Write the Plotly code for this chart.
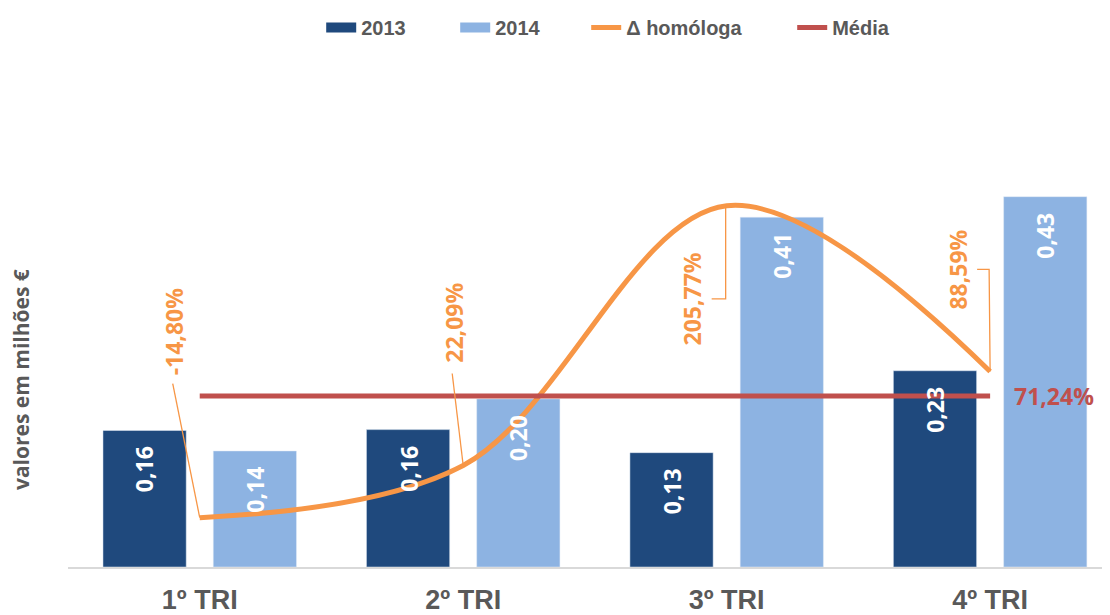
import plotly.graph_objects as go

categories = ["1º TRI", "2º TRI", "3º TRI", "4º TRI"]
values_2013 = [0.160, 0.161, 0.134, 0.230]
values_2014 = [0.136, 0.197, 0.410, 0.434]
delta_homologa = [-14.80, 22.09, 205.77, 88.59]
media = 71.24

C2013 = "#1F497D"
C2014 = "#8DB3E2"
CORANGE = "#F79646"
CRED = "#C0504D"
GREY = "#595959"
LABEL_FONT = "Open Sans, DejaVu Sans, sans-serif"
AXIS_FONT = "Liberation Sans, Arial, sans-serif"

fig = go.Figure()
fig.add_trace(go.Bar(name="2013", x=categories, y=values_2013, marker_color=C2013,
                     hoverinfo="skip", showlegend=False, legendgroup="2013"))
fig.add_trace(go.Bar(name="2014", x=categories, y=values_2014, marker_color=C2014,
                     hoverinfo="skip", showlegend=False, legendgroup="2014"))
# legend entries for the bar series (wide rectangular keys)
fig.add_trace(go.Scatter(name="2013", x=[None], y=[None], mode="lines", legendgroup="2013",
                         line=dict(color=C2013, width=11), hoverinfo="skip", legendwidth=89))
fig.add_trace(go.Scatter(name="2014", x=[None], y=[None], mode="lines", legendgroup="2014",
                         line=dict(color=C2014, width=11), hoverinfo="skip", legendwidth=86))
fig.add_trace(go.Scatter(name="\u0394 homóloga", x=categories, y=delta_homologa, yaxis="y2",
                         mode="lines", line=dict(color=CORANGE, width=5, shape="spline", smoothing=1),
                         hoverinfo="skip", legendwidth=161))
fig.add_trace(go.Scatter(name="Média", x=categories, y=[media] * len(categories), yaxis="y2",
                         mode="lines", line=dict(color=CRED, width=5), hoverinfo="skip"))

def fmt(v, d=2):
    return f"{v:.{d}f}".replace(".", ",")

annotations = []
# bar value labels (inside end, rotated)
for i, c in enumerate(categories):
    for vals, dx in ((values_2013, -55), (values_2014, 55)):
        annotations.append(dict(x=i, y=vals[i], xref="x", yref="y", text=fmt(vals[i]),
                                showarrow=False, textangle=-90, xanchor="center", yanchor="top",
                                xshift=dx, yshift=-14,
                                font=dict(family=LABEL_FONT, size=23, color="white", weight="bold")))

# delta labels with leader lines
label_offsets = [(-26, 186), (-9, 143), (-35, -93), (-32, 102)]
leader_paths = ["M0,0 L-27,134", "M0,0 L-11,92", "M-1,0 L-1,-93 L-15,-93", "M0,0 L-1,102 L-13,102"]
shapes = []
for i, d in enumerate(delta_homologa):
    ox, oy = label_offsets[i]
    annotations.append(dict(x=i, y=d, xref="x", yref="y2", text=fmt(d) + "%", showarrow=False,
                            textangle=-90, xanchor="center", yanchor="middle", xshift=ox, yshift=oy,
                            font=dict(family=LABEL_FONT, size=23, color=CORANGE, weight="bold")))
    shapes.append(dict(type="path", xref="x", yref="y2", xsizemode="pixel", ysizemode="pixel",
                       xanchor=i, yanchor=d, path=leader_paths[i],
                       line=dict(color=CORANGE, width=1.3)))

annotations.append(dict(x=len(categories) - 1, y=media, xref="x", yref="y2", text=fmt(media) + "%",
                        showarrow=False, xanchor="left", yanchor="middle", xshift=22,
                        font=dict(family=LABEL_FONT, size=23, color=CRED, weight="bold")))

annotations.append(dict(x=0, y=0.38, xref="paper", yref="paper", text="valores em milhões €",
                        showarrow=False, textangle=-90, xanchor="center", yanchor="middle", xshift=-47,
                        font=dict(family=LABEL_FONT, size=21, color=GREY, weight="bold")))

fig.update_layout(
    width=1102, height=607,
    margin=dict(l=60, r=0, t=62, b=48),
    paper_bgcolor="white", plot_bgcolor="white",
    barmode="group", bargap=0.163, bargroupgap=0.245,
    separators=",.",
    showlegend=True,
    legend=dict(orientation="h", x=0.243, xanchor="left", y=1.097, yanchor="middle",
                font=dict(family=AXIS_FONT, size=20, color=GREY, weight="bold"),
                traceorder="normal"),
    xaxis=dict(type="category", range=[-0.5, 3.455], showline=True, linecolor="#D9D9D9",
               linewidth=2, ticks="", showgrid=False, zeroline=False,
               tickfont=dict(family=AXIS_FONT, size=27, color=GREY, weight="bold"),
               ticklabelstandoff=8),
    yaxis=dict(range=[0, 0.5766], visible=False, showgrid=False, zeroline=False),
    yaxis2=dict(range=[-49.72, 298.3], overlaying="y", visible=False, showgrid=False, zeroline=False),
    annotations=annotations,
    shapes=shapes,
)

fig.write_html("out.html")
